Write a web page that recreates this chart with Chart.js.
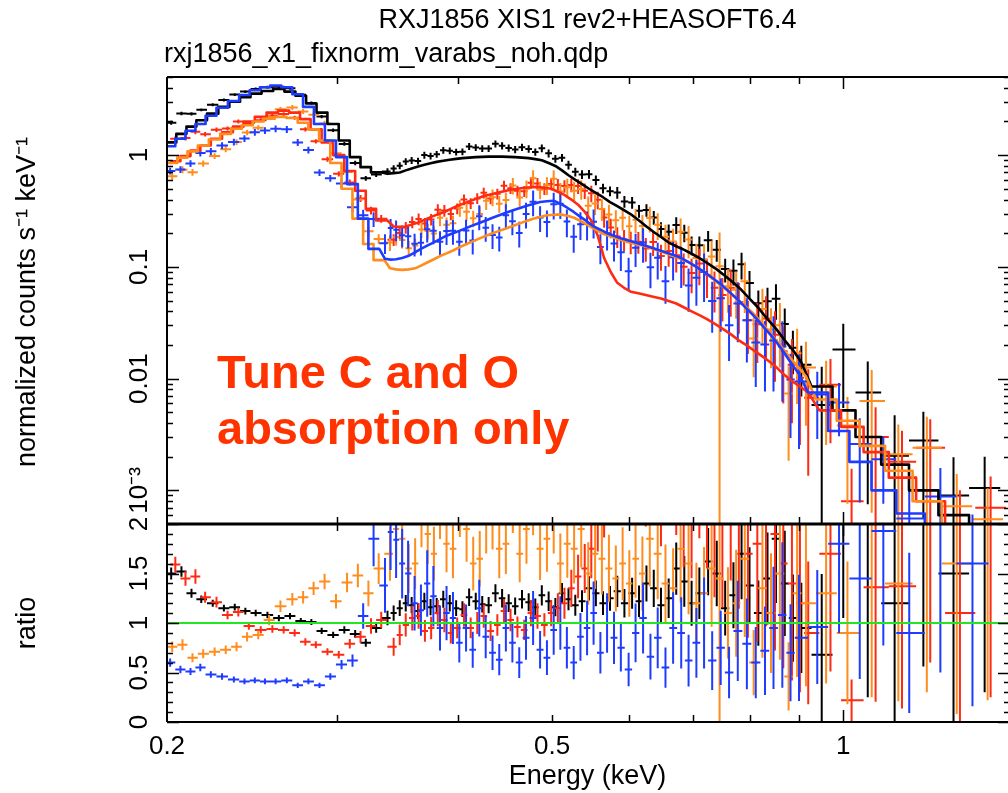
<!DOCTYPE html>
<html>
<head>
<meta charset="utf-8">
<title>RXJ1856 XIS1 spectrum</title>
<script src="https://cdn.jsdelivr.net/npm/chart.js@4.4.1/dist/chart.umd.min.js"></script>
<style>
  html, body { margin: 0; padding: 0; background: #ffffff; }
  canvas { display: block; }
</style>
</head>
<body>
<canvas id="spectrumChart" width="1008" height="793"></canvas>
<script>
/* ============================================
   DATA
   energy in keV, counts in counts/s/keV
   ============================================ */

// Black group
const blackEnergy = [0.202,0.207,0.212,0.217,0.223,0.229,0.235,0.241,0.247,0.254,0.261,0.268,0.275,0.282,0.289,0.297,0.305,0.313,0.321,0.329,
  0.338,0.343,0.348,0.353,0.358,0.3635,0.369,0.3745,0.380,0.386,0.392,0.398,0.404,0.4105,0.417,0.4235,0.430,0.437,0.444,0.451,
  0.458,0.4655,0.473,0.4805,0.488,0.496,0.504,0.512,0.520,0.5285,0.537,0.546,0.555,0.5645,0.574,0.584,0.594,
  0.605,0.615,0.626,0.637,0.648,0.660,0.672,0.685,0.697,0.710,0.725,0.740,0.755,0.770,0.785,0.800,0.817,0.835,0.852,0.870,0.887,0.905,
  0.950,1.000,1.060,1.130,1.210,1.300,1.400];
const blackCounts = [1.95,2.36,2.34,2.54,2.82,3.11,3.48,3.70,3.91,4.05,4.10,3.96,3.47,2.93,2.21,1.67,1.26,0.85,0.62,0.67,
  0.714,0.759,0.805,0.876,0.897,0.885,1.00,0.980,1.018,1.104,1.092,1.064,1.072,1.197,1.171,1.148,1.145,1.261,1.213,1.158,
  1.123,1.178,1.137,1.067,1.152,1.037,0.928,0.949,0.818,0.708,0.671,0.675,0.598,0.504,0.475,0.462,0.384,
  0.377,0.317,0.322,0.277,0.218,0.206,0.237,0.202,0.157,0.156,0.173,0.1425,0.0955,0.0922,0.1054,0.0718,0.0473,0.0493,0.0518,0.0308,0.0189,0.0133,
  0.0058,0.0182,0.0075,0.00204,0.0028,0.0009,0.00105];
const blackModel = [1.30,1.55,1.80,2.05,2.35,2.70,3.00,3.30,3.55,3.75,3.90,3.70,3.40,2.90,2.40,1.90,1.35,0.96,0.78,0.70,
  0.68,0.69,0.70,0.73,0.76,0.79,0.82,0.845,0.87,0.89,0.91,0.925,0.94,0.95,0.96,0.965,0.97,0.97,0.97,0.965,
  0.96,0.95,0.94,0.92,0.90,0.85,0.80,0.73,0.66,0.60,0.55,0.50,0.46,0.42,0.38,0.35,0.32,
  0.29,0.26,0.23,0.205,0.185,0.165,0.153,0.142,0.131,0.12,0.107,0.095,0.083,0.072,0.062,0.052,0.043,0.034,0.028,0.022,0.018,0.014,
  0.0085,0.0052,0.0030,0.0017,0.0010,0.0006,0.00035];
const blackRatio = [1.50,1.52,1.30,1.24,1.20,1.15,1.16,1.12,1.10,1.08,1.05,1.07,1.02,1.01,0.92,0.88,0.93,0.89,0.80,0.95,
  1.05,1.10,1.15,1.20,1.18,1.12,1.22,1.16,1.17,1.24,1.20,1.15,1.14,1.26,1.22,1.19,1.18,1.30,1.25,1.20,
  1.17,1.24,1.21,1.16,1.28,1.22,1.16,1.30,1.24,1.18,1.22,1.35,1.30,1.20,1.25,1.32,1.20,
  1.30,1.22,1.40,1.35,1.18,1.25,1.55,1.42,1.20,1.30,1.62,1.50,1.15,1.28,1.70,1.38,1.10,1.45,1.85,1.40,1.05,0.95,
  0.68,3.50,2.50,1.20,2.80,1.50,3.00];
const blackRelErr = [0.04,0.035,0.035,0.03,0.03,0.03,0.03,0.03,0.03,0.03,0.03,0.03,0.03,0.03,0.035,0.035,0.04,0.045,0.05,0.05,
  0.07,0.07,0.07,0.07,0.07,0.07,0.07,0.07,0.07,0.07,0.07,0.07,0.07,0.07,0.07,0.07,0.07,0.07,0.075,0.075,
  0.075,0.075,0.075,0.075,0.08,0.08,0.08,0.08,0.09,0.09,0.09,0.09,0.10,0.10,0.10,0.12,0.12,
  0.12,0.13,0.13,0.14,0.15,0.16,0.17,0.18,0.19,0.20,0.21,0.22,0.24,0.26,0.27,0.28,0.30,0.32,0.35,0.38,0.42,0.48,
  1.2,0.7,0.9,1.3,0.8,1.2,0.9];

// Red group
const redEnergy = [0.204,0.209,0.214,0.219,0.225,0.231,0.237,0.243,0.250,0.257,0.264,0.271,0.278,0.285,0.293,0.301,0.309,0.317,0.325,0.333,
  0.343,0.348,0.353,0.3585,0.364,0.3695,0.375,0.381,0.387,0.393,0.399,0.4055,0.412,0.4185,0.425,0.432,0.439,0.446,0.453,0.4605,
  0.468,0.4755,0.483,0.491,0.499,0.507,0.515,0.5235,0.532,0.5405,0.549,0.5575,0.566,0.575,0.584,0.5935,0.603,
  0.614,0.625,0.636,0.648,0.660,0.672,0.684,0.697,0.710,0.723,0.736,0.750,0.765,0.780,0.797,0.815,0.832,0.850,0.867,0.885,0.902,0.920,
  0.970,1.020,1.080,1.150,1.230,1.320,1.420];
const redCounts = [1.40,1.42,1.62,1.54,1.69,1.73,2.00,1.94,2.05,2.26,2.33,2.16,1.70,1.33,0.92,0.68,0.57,0.41,0.32,0.27,
  0.175,0.201,0.225,0.252,0.268,0.244,0.266,0.325,0.319,0.297,0.333,0.40,0.371,0.41,0.46,0.409,0.451,0.532,0.505,0.48,
  0.474,0.567,0.556,0.50,0.55,0.541,0.528,0.54,0.529,0.481,0.455,0.399,0.276,0.225,0.187,0.1755,0.168,
  0.168,0.146,0.167,0.125,0.139,0.127,0.100,0.088,0.107,0.085,0.065,0.056,0.065,0.0484,0.0332,0.0306,0.0345,0.0247,0.0176,0.0133,0.0102,0.00675,
  0.0088,0.0008,0.0030,0.0018,0.0024,0.0005,0.0007];
const redModel = [0.88,0.98,1.10,1.22,1.40,1.60,1.80,2.00,2.20,2.40,2.50,2.40,2.10,1.70,1.30,1.00,0.72,0.48,0.33,0.26,
  0.23,0.228,0.23,0.24,0.25,0.265,0.28,0.295,0.31,0.33,0.35,0.37,0.39,0.41,0.43,0.445,0.46,0.475,0.49,0.50,
  0.51,0.515,0.52,0.51,0.50,0.47,0.44,0.40,0.36,0.31,0.26,0.19,0.12,0.09,0.072,0.065,0.060,
  0.058,0.056,0.054,0.052,0.0495,0.047,0.0435,0.040,0.037,0.034,0.031,0.028,0.025,0.022,0.0195,0.017,0.015,0.013,0.011,0.0095,0.0085,0.0075,
  0.0052,0.0037,0.0022,0.0013,0.0008,0.00045,0.00028];
const redRatio = [1.59,1.45,1.47,1.26,1.21,1.08,1.11,0.97,0.93,0.94,0.93,0.90,0.81,0.78,0.71,0.68,0.79,0.86,0.97,1.03,
  0.76,0.88,0.98,1.05,1.07,0.92,0.95,1.10,1.03,0.90,0.95,1.08,0.95,1.00,1.07,0.92,0.98,1.12,1.03,0.96,
  0.93,1.10,1.07,0.98,1.10,1.15,1.20,1.35,1.47,1.55,1.75,2.10,2.30,2.50,2.60,2.70,2.80,
  2.90,2.60,3.10,2.40,2.80,2.70,2.30,2.20,2.90,2.50,2.10,2.00,2.60,2.20,1.70,1.80,2.30,1.90,1.60,1.40,1.20,0.90,
  1.70,0.22,1.36,1.37,3.00,1.10,2.50];
const redRelErr = [0.05,0.05,0.05,0.045,0.045,0.04,0.04,0.04,0.04,0.04,0.04,0.04,0.045,0.045,0.05,0.055,0.06,0.07,0.08,0.08,
  0.12,0.12,0.12,0.12,0.12,0.12,0.12,0.12,0.12,0.12,0.11,0.11,0.11,0.11,0.11,0.11,0.11,0.11,0.11,0.11,
  0.11,0.12,0.12,0.12,0.12,0.13,0.13,0.14,0.15,0.16,0.17,0.18,0.19,0.20,0.21,0.22,0.23,
  0.22,0.24,0.25,0.26,0.28,0.30,0.32,0.34,0.36,0.38,0.40,0.42,0.45,0.48,0.50,0.55,0.58,0.62,0.66,0.70,0.75,0.80,
  0.70,0.95,0.85,0.90,0.80,1.00,0.90];

// Orange group
const orangeEnergy = [0.2025,0.2075,0.2125,0.218,0.224,0.230,0.236,0.242,0.2485,0.255,0.262,0.2695,0.2765,0.2835,0.291,0.299,0.307,0.315,0.323,0.331,
  0.340,0.345,0.350,0.3555,0.361,0.3665,0.372,0.3775,0.383,0.389,0.395,0.4015,0.408,0.4145,0.421,0.4275,0.434,0.441,0.448,0.4555,
  0.463,0.4705,0.478,0.486,0.494,0.502,0.510,0.5185,0.527,0.536,0.545,0.554,0.563,0.5725,0.582,0.5915,0.601,
  0.610,0.620,0.631,0.643,0.655,0.667,0.679,0.692,0.705,0.718,0.731,0.745,0.760,0.775,0.791,0.808,0.825,0.842,0.860,0.878,0.896,0.915,
  0.960,1.010,1.070,1.140,1.220,1.310,1.410];
const orangeCounts = [0.646,0.741,0.702,0.842,0.98,1.13,1.31,1.59,1.76,2.18,2.57,2.67,2.46,2.30,1.92,1.04,0.705,0.40,0.208,0.178,
  0.165,0.185,0.174,0.147,0.155,0.216,0.209,0.199,0.275,0.238,0.245,0.3375,0.312,0.272,0.297,0.3895,0.42,0.3675,0.396,0.534,
  0.4165,0.501,0.621,0.49,0.5365,0.615,0.472,0.517,0.481,0.497,0.3525,0.369,0.33,0.2945,0.261,0.275,0.231,
  0.264,0.2325,0.274,0.238,0.186,0.169,0.2065,0.176,0.12,0.117,0.124,0.1015,0.0671,0.0624,0.0743,0.0228,0.0419,0.0275,0.03,0.00736,0.0169,0.0126,
  0.0085,0.0038,0.0063,0.0021,0.0024,0.00072,0.00055];
const orangeModel = [0.85,0.95,1.08,1.22,1.38,1.55,1.72,1.85,2.00,2.12,2.20,2.15,1.95,1.70,1.35,0.85,0.50,0.27,0.16,0.115,
  0.097,0.095,0.094,0.095,0.097,0.103,0.110,0.117,0.125,0.132,0.140,0.150,0.160,0.170,0.180,0.190,0.200,0.210,0.220,0.232,
  0.245,0.257,0.270,0.280,0.290,0.293,0.295,0.287,0.275,0.255,0.235,0.217,0.200,0.190,0.180,0.172,0.165,
  0.16,0.155,0.148,0.14,0.133,0.125,0.118,0.11,0.10,0.09,0.08,0.07,0.061,0.052,0.045,0.038,0.031,0.025,0.02,0.016,0.013,0.0105,
  0.0065,0.0042,0.0025,0.0015,0.0008,0.00045,0.00025];
const orangeRatio = [0.76,0.78,0.65,0.69,0.71,0.73,0.76,0.86,0.88,1.03,1.17,1.24,1.26,1.35,1.42,1.22,1.41,1.48,1.30,1.55,
  1.70,1.95,1.85,1.55,1.60,2.10,1.90,1.70,2.20,1.80,1.75,2.25,1.95,1.60,1.65,2.05,2.10,1.75,1.80,2.30,
  1.70,1.95,2.30,1.75,1.85,2.10,1.60,1.80,1.75,1.95,1.50,1.70,1.65,1.55,1.45,1.60,1.40,
  1.65,1.50,1.85,1.70,1.40,1.35,1.75,1.60,1.20,1.30,1.55,1.45,1.10,1.20,1.65,0.60,1.35,1.10,1.50,0.46,1.30,1.20,
  1.30,0.90,2.50,1.40,3.00,1.60,2.20];
const orangeRelErr = [0.07,0.07,0.07,0.065,0.06,0.06,0.06,0.055,0.05,0.05,0.05,0.05,0.05,0.05,0.055,0.06,0.07,0.08,0.10,0.10,
  0.16,0.16,0.16,0.16,0.16,0.16,0.16,0.16,0.16,0.16,0.17,0.17,0.17,0.17,0.17,0.17,0.17,0.17,0.17,0.17,
  0.17,0.18,0.18,0.18,0.18,0.19,0.19,0.19,0.20,0.20,0.21,0.21,0.22,0.22,0.23,0.23,0.24,
  0.24,0.25,0.26,0.27,0.28,0.30,0.31,0.32,0.34,0.36,0.38,1.00,0.42,0.45,0.48,0.55,0.52,0.55,0.58,0.75,0.65,0.70,
  0.70,0.80,0.90,0.85,0.90,0.95,0.90];

// Blue group
const blueEnergy = [0.2015,0.2065,0.2115,0.2165,0.222,0.228,0.2345,0.2405,0.2465,0.2525,0.259,0.266,0.273,0.280,0.2875,0.295,0.303,0.311,0.319,0.327,
  0.336,0.3405,0.345,0.350,0.355,0.3605,0.366,0.3715,0.377,0.383,0.389,0.395,0.401,0.4075,0.414,0.4205,0.427,0.434,0.441,0.448,
  0.455,0.4625,0.470,0.478,0.486,0.494,0.502,0.510,0.518,0.5265,0.535,0.5435,0.552,0.561,0.570,0.5795,0.589,
  0.600,0.610,0.621,0.632,0.643,0.655,0.667,0.680,0.692,0.705,0.718,0.732,0.747,0.762,0.778,0.795,0.812,0.830,0.847,0.865,0.882,0.900,
  0.940,0.990,1.040,1.100,1.170,1.260,1.360];
const blueCounts = [0.72,0.742,0.84,1.045,1.08,1.22,1.31,1.41,1.60,1.66,1.72,1.70,1.30,1.11,0.70,0.62,0.557,0.341,0.289,0.268,
  0.163,0.223,0.215,0.192,0.1875,0.161,0.164,0.217,0.21,0.168,0.209,0.21,0.168,0.211,0.172,0.284,0.224,0.1925,0.183,0.29,
  0.256,0.201,0.2975,0.383,0.277,0.252,0.363,0.368,0.255,0.186,0.241,0.242,0.253,0.1505,0.20,0.1615,0.135,
  0.0912,0.1485,0.165,0.099,0.1207,0.0743,0.1216,0.108,0.0682,0.08,0.09,0.0496,0.0525,0.03,0.0469,0.0332,0.021,0.0202,0.0219,0.0194,0.0098,0.0094,
  0.0072,0.0061,0.0026,0.0019,0.00056,0.00088,0.00032];
const blueModel = [1.20,1.40,1.65,1.90,2.25,2.65,3.05,3.45,3.80,4.05,4.20,4.05,3.50,2.70,1.90,1.35,0.96,0.55,0.27,0.145,
  0.118,0.116,0.117,0.120,0.125,0.134,0.145,0.155,0.165,0.177,0.190,0.200,0.210,0.222,0.235,0.247,0.260,0.275,0.290,0.305,
  0.320,0.335,0.350,0.365,0.380,0.387,0.390,0.368,0.340,0.310,0.280,0.255,0.230,0.215,0.200,0.190,0.180,
  0.172,0.165,0.157,0.15,0.142,0.135,0.128,0.12,0.11,0.10,0.09,0.08,0.07,0.06,0.051,0.042,0.035,0.028,0.023,0.018,0.014,0.011,
  0.0075,0.0034,0.0018,0.0010,0.00062,0.00035,0.0002];
const blueRatio = [0.60,0.53,0.51,0.55,0.48,0.46,0.43,0.41,0.42,0.41,0.41,0.42,0.37,0.41,0.37,0.46,0.58,0.62,1.07,1.85,
  1.38,1.92,1.84,1.60,1.50,1.20,1.13,1.40,1.27,0.95,1.10,1.05,0.80,0.95,0.73,1.15,0.86,0.70,0.63,0.95,
  0.80,0.60,0.85,1.05,0.73,0.65,0.93,1.00,0.75,0.60,0.86,0.95,1.10,0.70,1.00,0.85,0.75,
  0.53,0.90,1.05,0.66,0.85,0.55,0.95,0.90,0.62,0.80,1.00,0.62,0.75,0.50,0.92,0.79,0.60,0.72,0.95,1.08,0.70,0.85,
  0.96,1.80,1.45,1.93,0.90,2.50,1.60];
const blueRelErr = [0.07,0.07,0.07,0.07,0.07,0.07,0.07,0.07,0.07,0.07,0.07,0.07,0.07,0.07,0.07,0.07,0.08,0.10,0.12,0.15,
  0.20,0.20,0.21,0.22,0.22,0.23,0.23,0.24,0.24,0.24,0.25,0.25,0.25,0.25,0.25,0.25,0.25,0.25,0.25,0.25,
  0.25,0.26,0.26,0.26,0.26,0.27,0.27,0.27,0.28,0.28,0.28,0.29,0.29,0.30,0.30,0.31,0.32,
  0.32,0.33,0.34,0.35,0.36,0.37,0.38,0.40,0.42,0.44,0.46,0.48,0.50,0.52,0.55,0.58,0.60,0.62,0.65,0.68,0.70,0.75,
  0.60,0.50,0.70,0.60,0.90,0.80,0.90];

// Reference level in the ratio panel
const unityRatio = 1;

// Axis ticks and labels
const energyTickValues = [0.2, 0.5, 1];
const energyTickLabels = ['0.2', '0.5', '1'];
const energyTickMarks = [0.3, 0.4, 0.5, 0.6, 0.7, 0.8, 0.9, 1];
const countTickValues = [1, 0.1, 0.01, 0.001];
const countTickLabels = ['1', '0.1', '0.01', '10\u207B\u00B3'];
const ratioTickValues = [0, 0.5, 1, 1.5, 2];
const ratioTickLabels = ['0', '0.5', '1', '1.5', '2'];

// Texts
const titleText = 'RXJ1856 XIS1 rev2+HEASOFT6.4';
const subtitleText = 'rxj1856_x1_fixnorm_varabs_noh.qdp';
const countsAxisTitle = 'normalized counts s\u207B\u00B9 keV\u207B\u00B9';
const ratioAxisTitle = 'ratio';
const energyAxisTitle = 'Energy (keV)';
const annotationLines = ['Tune C and O', 'absorption only'];

/* ============================================
   STYLE
   ============================================ */
const FONT = "'Liberation Sans', Arial, Helvetica, sans-serif";
const COLORS = {
  black: '#000000',
  red: '#ff2a12',
  orange: '#ff8c1c',
  blue: '#1e3cff',
  green: '#22e622',
  note: '#ff3300'
};
// Model is drawn as a histogram where the channels are wide,
// and as a plain curve through the bin centres where they are narrow
const SMOOTH_FROM = 0.334;
const SMOOTH_TO = 0.93;

const groups = [
  { color: COLORS.black, energy: blackEnergy, counts: blackCounts, model: blackModel, ratio: blackRatio, relErr: blackRelErr },
  { color: COLORS.red, energy: redEnergy, counts: redCounts, model: redModel, ratio: redRatio, relErr: redRelErr },
  { color: COLORS.orange, energy: orangeEnergy, counts: orangeCounts, model: orangeModel, ratio: orangeRatio, relErr: orangeRelErr },
  { color: COLORS.blue, energy: blueEnergy, counts: blueCounts, model: blueModel, ratio: blueRatio, relErr: blueRelErr }
];

/* ============================================
   HELPERS - build crosses and model curves
   ============================================ */
// Bin edges: geometric midpoints between neighbouring channels
function binEdges(energy) {
  const n = energy.length;
  return energy.map((e, i) => {
    const prev = i > 0 ? energy[i - 1] : e * e / energy[i + 1];
    const next = i < n - 1 ? energy[i + 1] : e * e / energy[i - 1];
    return [Math.sqrt(prev * e), Math.sqrt(e * next)];
  });
}

// Horizontal bar = bin width, vertical bar = error; nulls break the line
function errorCrosses(energy, values, relErr, floor) {
  const edges = binEdges(energy);
  const pts = [];
  energy.forEach((e, i) => {
    const v = values[i];
    const d = v * relErr[i];
    pts.push({ x: edges[i][0], y: v }, { x: edges[i][1], y: v }, { x: edges[i][1], y: null });
    pts.push({ x: e, y: Math.max(v - d, floor) }, { x: e, y: v + d }, { x: e, y: null });
  });
  return pts;
}

function modelCurve(energy, model) {
  const edges = binEdges(energy);
  const pts = [];
  energy.forEach((e, i) => {
    if (e > SMOOTH_FROM && e < SMOOTH_TO) {
      pts.push({ x: e, y: model[i] });
    } else {
      pts.push({ x: edges[i][0], y: model[i] }, { x: edges[i][1], y: model[i] });
    }
  });
  return pts;
}

/* ============================================
   DATASETS
   ============================================ */
const datasets = [];
let layer = 0;
function addLayer(ds) {
  ds.order = 1000 - layer++;   // later layers are drawn on top
  datasets.push(Object.assign({
    type: 'line',
    xAxisID: 'x',
    pointRadius: 0,
    pointHoverRadius: 0,
    fill: false,
    tension: 0,
    spanGaps: false
  }, ds));
}

// Top panel data
groups.forEach(g => addLayer({
  yAxisID: 'counts',
  data: errorCrosses(g.energy, g.counts, g.relErr, 1e-6),
  borderColor: g.color,
  borderWidth: 2
}));
// Top panel models
groups.forEach(g => addLayer({
  yAxisID: 'counts',
  data: modelCurve(g.energy, g.model),
  borderColor: g.color,
  borderWidth: 2.6,
  borderJoinStyle: 'round'
}));
// Ratio panel data
groups.forEach(g => addLayer({
  yAxisID: 'ratio',
  data: errorCrosses(g.energy, g.ratio, g.relErr, -1),
  borderColor: g.color,
  borderWidth: 2
}));
// Unity line
addLayer({
  yAxisID: 'ratio',
  data: [{ x: 0.2, y: unityRatio }, { x: 1.48, y: unityRatio }],
  borderColor: COLORS.green,
  borderWidth: 2
});

/* ============================================
   FRAME, TICKS AND TEXT PLUGIN
   ============================================ */
function drawRotated(ctx, text, x, y, size) {
  ctx.save();
  ctx.translate(x, y);
  ctx.rotate(-Math.PI / 2);
  ctx.font = size + 'px ' + FONT;
  ctx.textAlign = 'center';
  ctx.textBaseline = 'middle';
  ctx.fillText(text, 0, 0);
  ctx.restore();
}

const panelDecor = {
  id: 'panelDecor',
  afterDraw(chart) {
    const { ctx, chartArea } = chart;
    const xs = chart.scales.x;
    const yc = chart.scales.counts;
    const yr = chart.scales.ratio;
    const left = chartArea.left;
    const right = chartArea.right;
    const rightFrame = right + 2;   // right border sits just past the picture edge

    ctx.save();
    ctx.strokeStyle = '#000';
    ctx.fillStyle = '#000';
    ctx.lineWidth = 2;
    ctx.lineCap = 'butt';

    // Frames
    ctx.beginPath();
    ctx.moveTo(left, yc.top); ctx.lineTo(rightFrame, yc.top);
    ctx.moveTo(left, yc.top); ctx.lineTo(left, yr.bottom);
    ctx.moveTo(left, yr.bottom); ctx.lineTo(rightFrame, yr.bottom);
    ctx.stroke();
    ctx.lineWidth = 3;
    ctx.beginPath();
    ctx.moveTo(left, yc.bottom); ctx.lineTo(rightFrame, yc.bottom);
    ctx.stroke();

    // X ticks (inward on every horizontal edge)
    ctx.lineWidth = 1.5;
    ctx.beginPath();
    energyTickMarks.forEach(v => {
      const px = Math.round(xs.getPixelForValue(v)) + 0.5;
      const len = v === 1 ? 12 : 7;
      ctx.moveTo(px, yc.top); ctx.lineTo(px, yc.top + len);
      ctx.moveTo(px, yc.bottom); ctx.lineTo(px, yc.bottom - len);
      ctx.moveTo(px, yr.top); ctx.lineTo(px, yr.top + len);
      ctx.moveTo(px, yr.bottom); ctx.lineTo(px, yr.bottom - len);
    });
    // Counts panel ticks (log)
    for (let p = -4; p <= 0; p++) {
      for (let k = 1; k <= 9; k++) {
        const v = k * Math.pow(10, p);
        if (v < yc.min || v > yc.max) continue;
        const py = Math.round(yc.getPixelForValue(v)) + 0.5;
        const len = k === 1 ? 12 : 6;
        ctx.moveTo(left, py); ctx.lineTo(left + len, py);
        ctx.moveTo(rightFrame, py); ctx.lineTo(rightFrame - len, py);
      }
    }
    // Ratio panel ticks
    for (let i = 0; i <= 20; i++) {
      const py = Math.round(yr.getPixelForValue(i / 10)) + 0.5;
      const len = i % 5 === 0 ? 12 : 6;
      ctx.moveTo(left, py); ctx.lineTo(left + len, py);
      ctx.moveTo(rightFrame, py); ctx.lineTo(rightFrame - len, py);
    }
    ctx.stroke();

    // Y tick labels (rotated, PGPLOT style)
    countTickValues.forEach((v, i) => drawRotated(ctx, countTickLabels[i], 140, yc.getPixelForValue(v), 26));
    ratioTickValues.forEach((v, i) => drawRotated(ctx, ratioTickLabels[i], 140, yr.getPixelForValue(v), 26));

    // Axis titles
    drawRotated(ctx, countsAxisTitle, 28, 302, 27);
    drawRotated(ctx, ratioAxisTitle, 28, yr.getPixelForValue(unityRatio), 27);

    // Plot titles
    ctx.font = '27px ' + FONT;
    ctx.textBaseline = 'middle';
    ctx.textAlign = 'center';
    ctx.fillText(titleText, (left + right) / 2, 21);
    ctx.textAlign = 'left';
    ctx.fillText(subtitleText, 164, 55);

    // Annotation
    ctx.fillStyle = COLORS.note;
    ctx.font = 'bold 47px ' + FONT;
    ctx.textBaseline = 'alphabetic';
    ctx.fillText(annotationLines[0], 217, 388);
    ctx.fillText(annotationLines[1], 217, 444);
    ctx.restore();
  }
};

/* ============================================
   CHART
   ============================================ */
const canvas = document.getElementById('spectrumChart');
new Chart(canvas.getContext('2d'), {
  type: 'line',
  data: { datasets: datasets },
  options: {
    responsive: false,
    animation: false,
    events: [],
    layout: { padding: { top: 77, right: 0, bottom: 0, left: 0 } },
    plugins: {
      legend: { display: false },
      tooltip: { enabled: false }
    },
    scales: {
      x: {
        type: 'logarithmic',
        position: 'bottom',
        min: 0.2,
        max: 1.48,
        grid: { display: false, drawTicks: false },
        border: { display: false },
        afterBuildTicks: (axis) => {
          axis.ticks = energyTickValues.map(v => ({ value: v }));
        },
        ticks: {
          autoSkip: false,
          maxRotation: 0,
          minRotation: 0,
          padding: 9,
          color: '#000',
          font: { family: FONT, size: 26 },
          callback: (value, index) => energyTickLabels[index]
        },
        title: {
          display: true,
          text: energyAxisTitle,
          color: '#000',
          font: { family: FONT, size: 27 },
          padding: { top: 0, bottom: 0 }
        },
        afterFit: (axis) => { axis.height = 71; }
      },
      counts: {
        type: 'logarithmic',
        position: 'left',
        stack: 'panels',
        stackWeight: 447,
        weight: 2,
        min: 5e-4,
        max: 5,
        grid: { display: false, drawTicks: false },
        border: { display: false },
        ticks: { display: false },
        afterFit: (axis) => { axis.width = 167; }
      },
      ratio: {
        type: 'linear',
        position: 'left',
        stack: 'panels',
        stackWeight: 198,
        weight: 1,
        min: 0,
        max: 2,
        grid: { display: false, drawTicks: false },
        border: { display: false },
        ticks: { display: false },
        afterFit: (axis) => { axis.width = 167; }
      }
    }
  },
  plugins: [panelDecor]
});
</script>
</body>
</html>
